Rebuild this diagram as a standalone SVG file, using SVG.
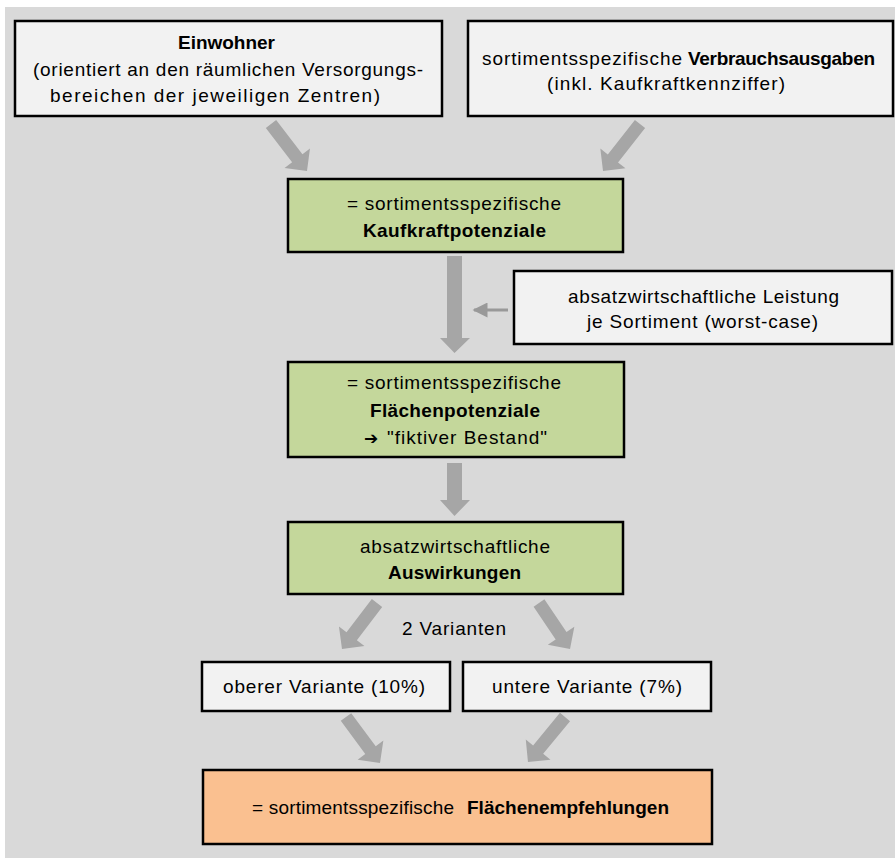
<svg xmlns="http://www.w3.org/2000/svg" width="895" height="858" viewBox="0 0 895 858">
<style>
.box{fill:#f2f2f2;stroke:#000;stroke-width:2.5}
.green{fill:#c4d79b;stroke:#000;stroke-width:2.5}
.orange{fill:#fac090;stroke:#000;stroke-width:2.5}
.arr{fill:#a6a6a6}
text{font-family:"Liberation Sans",Arial,sans-serif;font-size:19px;fill:#000}
.b{font-weight:bold}
</style>
<defs>
<marker id="ah" viewBox="0 0 10 10" refX="9" refY="5" markerWidth="5.5" markerHeight="5" orient="auto" markerUnits="strokeWidth">
<path d="M0,0 L10,5 L0,10 z" fill="#999"/>
</marker>
</defs>
<rect x="5" y="7" width="890" height="851" fill="#d9d9d9"/>
<g id="connectors">
<polygon class="arr" transform="translate(271,124) rotate(52.55)" points="0,-6.5 43.2,-6.5 43.2,-16 59.2,0 43.2,16 43.2,6.5 0,6.5"/>
<polygon class="arr" transform="translate(640,124) rotate(128.21)" points="0,-6.5 43.8,-6.5 43.8,-16 59.8,0 43.8,16 43.8,6.5 0,6.5"/>
<polygon class="arr" points="447,256 462,256 462,338 470,338 454.5,353 440,338 447,338"/>
<line x1="508" y1="310" x2="474" y2="310" stroke="#999" stroke-width="3" marker-end="url(#ah)"/>
<polygon class="arr" points="447,463 462,463 462,500 470,500 454.5,516 440,500 447,500"/>
<polygon class="arr" transform="translate(377,603) rotate(127.27)" points="0,-6.5 41.8,-6.5 41.8,-16 57.8,0 41.8,16 41.8,6.5 0,6.5"/>
<polygon class="arr" transform="translate(539,603) rotate(56.02)" points="0,-6.5 39.5,-6.5 39.5,-16 55.5,0 39.5,16 39.5,6.5 0,6.5"/>
<polygon class="arr" transform="translate(346,717) rotate(53.53)" points="0,-6.5 41.2,-6.5 41.2,-16 57.2,0 41.2,16 41.2,6.5 0,6.5"/>
<polygon class="arr" transform="translate(565,717) rotate(129.43)" points="0,-6.5 42.3,-6.5 42.3,-16 58.3,0 42.3,16 42.3,6.5 0,6.5"/>
</g>
<g id="einwohner">
<rect class="box" x="15" y="21" width="427" height="95"/>
<text class="b" x="178" y="49" textLength="97">Einwohner</text>
<text x="33" y="76" textLength="390">(orientiert an den räumlichen Versorgungs-</text>
<text x="50" y="102" textLength="330">bereichen der jeweiligen Zentren)</text>
</g>
<g id="verbrauchsausgaben">
<rect class="box" x="468" y="21" width="425" height="95"/>
<text x="482" y="65"><tspan textLength="200">sortimentsspezifische</tspan><tspan class="b" x="688" textLength="187">Verbrauchsausgaben</tspan></text>
<text x="547" y="90" textLength="238">(inkl. Kaufkraftkennziffer)</text>
</g>
<g id="kaufkraftpotenziale">
<rect class="green" x="288" y="179" width="335" height="73"/>
<text x="347" y="210" textLength="214">= sortimentsspezifische</text>
<text class="b" x="363" y="237" textLength="183">Kaufkraftpotenziale</text>
</g>
<g id="leistung">
<rect class="box" x="514" y="271" width="378" height="73"/>
<text x="568" y="303" textLength="271">absatzwirtschaftliche Leistung</text>
<text x="587" y="328" textLength="231">je Sortiment (worst-case)</text>
</g>
<g id="flaechenpotenziale">
<rect class="green" x="288" y="362" width="336" height="95"/>
<text x="347" y="389" textLength="214">= sortimentsspezifische</text>
<text class="b" x="370" y="417" textLength="170">Flächenpotenziale</text>
<text x="364" y="444"><tspan style="font-family:'DejaVu Sans',sans-serif;font-size:17px" font-weight="bold">➔</tspan><tspan x="387" textLength="160">"fiktiver Bestand"</tspan></text>
</g>
<g id="auswirkungen">
<rect class="green" x="288" y="522" width="335" height="72"/>
<text x="360" y="553" textLength="190">absatzwirtschaftliche</text>
<text class="b" x="388" y="579" textLength="133">Auswirkungen</text>
</g>
<g id="varianten-label">
<text x="402" y="635" textLength="104">2 Varianten</text>
</g>
<g id="obere-variante">
<rect class="box" x="202" y="662" width="248" height="49"/>
<text x="223" y="693" textLength="202">oberer Variante (10%)</text>
</g>
<g id="untere-variante">
<rect class="box" x="463" y="662" width="248" height="49"/>
<text x="492" y="693" textLength="190">untere Variante (7%)</text>
</g>
<g id="flaechenempfehlungen">
<rect class="orange" x="203" y="770" width="509" height="74"/>
<text x="252" y="814"><tspan textLength="202">= sortimentsspezifische</tspan><tspan class="b" x="467" textLength="202">Flächenempfehlungen</tspan></text>
</g>
</svg>
